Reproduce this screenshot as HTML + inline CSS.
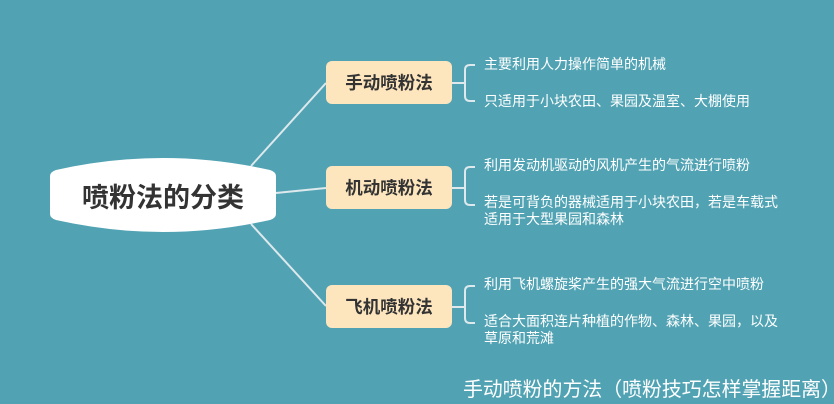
<!DOCTYPE html><html><head><meta charset="utf-8"><style>
body{margin:0;width:834px;height:404px;background:#51a3b4;position:relative;overflow:hidden;font-family:"Liberation Sans","Noto Sans CJK SC",sans-serif}
.b{position:absolute;left:326px;width:126px;height:43px;background:#fde5bd;border-radius:6px;font-size:17.5px;font-weight:bold;color:#333;display:flex;align-items:center;justify-content:center}
.t{position:absolute;left:484px;color:#fff;font-size:14px;line-height:17px;white-space:nowrap}
.f{position:absolute;left:463px;top:373px;color:#fff;font-size:19.9px;white-space:nowrap}
</style></head><body>
<svg width="834" height="404" style="position:absolute;left:0;top:0">
<g stroke="#dde9ec" stroke-width="2" fill="none">
<path d="M251 166 L326 83"/><path d="M276 193 L326 188"/><path d="M251 224 L326 306"/>
<path d="M452 83 H464"/><path d="M452 188 H464"/><path d="M452 307 H464"/>
<path d="M475 65 H470 Q465 65 465 70 V96 Q465 101 470 101 H475"/>
<path d="M475 167 H470 Q465 167 465 172 V200 Q465 205 470 205 H475"/>
<path d="M475 286 H470 Q465 286 465 291 V318 Q465 323 470 323 H475"/>
</g>
<path d="M50 176 Q50 172 56 170 Q110 158 163 158 Q216 158 270 170 Q276 172 276 176 V214 Q276 218 270 220 Q216 232 163 232 Q110 232 56 220 Q50 218 50 214 Z" fill="#fff"/>
</svg>
<div style="position:absolute;left:50px;top:158px;width:226px;height:74px;display:flex;align-items:center;justify-content:center;font-size:27px;font-weight:bold;color:#333">喷粉法的分类</div>
<div class="b" style="top:61px">手动喷粉法</div>
<div class="b" style="top:166px">机动喷粉法</div>
<div class="b" style="top:285px">飞机喷粉法</div>
<div class="t" style="top:56px">主要利用人力操作简单的机械</div>
<div class="t" style="top:93px">只适用于小块农田、果园及温室、大棚使用</div>
<div class="t" style="top:157px">利用发动机驱动的风机产生的气流进行喷粉</div>
<div class="t" style="top:194px">若是可背负的器械适用于小块农田，若是车载式<br>适用于大型果园和森林</div>
<div class="t" style="top:276px">利用飞机螺旋桨产生的强大气流进行空中喷粉</div>
<div class="t" style="top:313px">适合大面积连片种植的作物、森林、果园，以及<br>草原和荒滩</div>
<div class="f">手动喷粉的方法（喷粉技巧怎样掌握距离）</div>
</body></html>
